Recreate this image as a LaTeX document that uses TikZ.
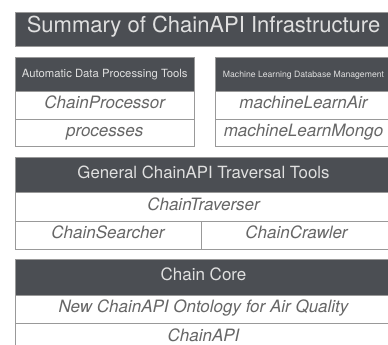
\documentclass[tikz,border=0pt]{standalone}
\usepackage{fontspec}
\setmainfont{TeX Gyre Heros}
\definecolor{hdr}{HTML}{4B4E53}
\definecolor{hdrtext}{HTML}{E0E0E0}
\definecolor{bodytext}{HTML}{666666}
\definecolor{rule}{HTML}{999999}
\tikzset{
  cell/.style={draw=rule, line width=0.9pt, inner sep=0pt, text height=0.72em, text depth=0pt, anchor=center},
  hcell/.style={cell, fill=hdr, text=hdrtext},
  bcell/.style={cell, fill=white, text=bodytext, font=\itshape\fontsize{17}{17}\selectfont},
}
\begin{document}
\begin{tikzpicture}[x=1pt,y=-1pt]
\useasboundingbox (0,0) rectangle (388,345);
\clip (0,0) rectangle (388,345);
% title
\node[hcell, minimum width=377pt, minimum height=34pt, font=\fontsize{22}{22}\selectfont] (title) at (203.5,29) {Summary of ChainAPI Infrastructure};
% left box
\node[hcell, minimum width=179.5pt, minimum height=34pt, font=\fontsize{11.3}{11.3}\selectfont] (adpt) at (104.75,74) {Automatic Data Processing Tools};
\node[bcell, minimum width=179.5pt, minimum height=28pt] (cproc) at (104.75,105) {ChainProcessor};
\node[bcell, minimum width=179.5pt, minimum height=27.5pt] (procs) at (104.75,132.75) {processes};
% right box
\node[hcell, minimum width=177pt, minimum height=34pt, font=\fontsize{8.65}{8.65}\selectfont] (mldm) at (303.5,74) {Machine Learning Database Management};
\node[bcell, minimum width=177pt, minimum height=28pt] (mlair) at (303.5,105) {machineLearnAir};
\node[bcell, minimum width=177pt, minimum height=27.5pt] (mlmongo) at (303.5,132.75) {machineLearnMongo};
% general traversal
\node[hcell, minimum width=377pt, minimum height=35.5pt, font=\fontsize{16.8}{16.8}\selectfont] (gtt) at (203.5,174.75) {General ChainAPI Traversal Tools};
\node[bcell, minimum width=377pt, minimum height=28.5pt] (ctrav) at (203.5,206.75) {ChainTraverser};
\node[bcell, minimum width=186pt, minimum height=28.5pt] (csearch) at (108,235.25) {ChainSearcher};
\node[bcell, minimum width=191pt, minimum height=28.5pt] (ccrawl) at (296.5,235.25) {ChainCrawler};
% chain core
\node[hcell, minimum width=377pt, minimum height=36pt, font=\fontsize{17}{17}\selectfont] (core) at (203.5,277) {Chain Core};
\node[bcell, minimum width=377pt, minimum height=28.5pt] (onto) at (203.5,309.25) {New ChainAPI Ontology for Air Quality};
\node[bcell, minimum width=377pt, minimum height=28.5pt] (capi) at (203.5,337.75) {ChainAPI};
\end{tikzpicture}
\end{document}
